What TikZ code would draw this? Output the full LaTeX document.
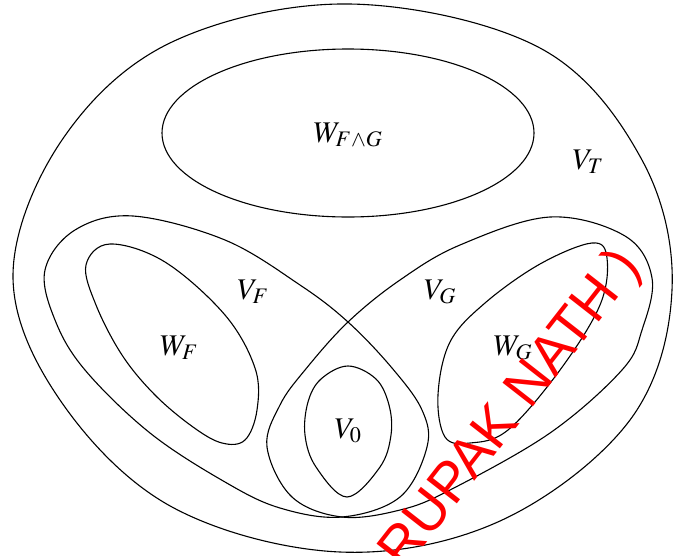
\documentclass[tikz,border=0pt]{standalone}
\usepackage{mathptmx}
\usepackage{fontspec}
\newfontfamily\markfont{Liberation Sans}
\tikzset{
    region/.style={line width=1.1pt, smooth cycle, tension=0.6},
    lbl/.style={font=\fontsize{30}{36}\selectfont},
}
\begin{document}
\begin{tikzpicture}[x=1pt,y=-1pt]
\useasboundingbox (0,0) rectangle (675,555);
\begin{scope}
    \clip (0,0) rectangle (675,555);
    \draw[region] plot coordinates {(350,4) (540,48) (642,160) (672,290) (630,420) (500,521) (340,552) (172,507) (60,400) (13,275) (62,140) (172,42)};
    \draw[line width=1.1pt] (348,133) ellipse [x radius=186, y radius=84];
    \draw[region] plot coordinates {(133,216) (225,240) (300,285) (348,322) (392,368) (422,410) (427,447) (400,497) (342,517) (280,508) (225,482) (150,433) (85,370) (55,320) (45,270) (75,230)};
    \draw[region] plot coordinates {(550,217) (625,236) (652,278) (642,330) (622,370) (550,433) (450,490) (400,510) (342,517) (292,497) (267,447) (280,405) (305,370) (348,322) (400,280) (460,245)};
    \draw[region] plot coordinates {(110,244) (165,262) (225,315) (255,368) (257,410) (245,440) (222,443) (193,427) (155,395) (122,355) (96,305) (86,265)};
    \draw[region] plot coordinates {(592,243) (607,258) (600,305) (560,370) (508,430) (470,443) (445,437) (438,395) (450,342) (485,303) (540,264)};
    \draw[region] plot coordinates {(348,366) (376,379) (389,405) (391,435) (380,467) (347,497) (316,467) (305,435) (308,402) (321,379)};
    \node[lbl] (wfg) at (348,135) {$W_{F\wedge G}$};
    \node[lbl] (vt) at (588,162) {$V_T$};
    \node[lbl] (vf) at (253,292) {$V_F$};
    \node[lbl] (vg) at (440,292) {$V_G$};
    \node[lbl] (wf) at (179,348) {$W_F$};
    \node[lbl] (wg) at (513,348) {$W_G$};
    \node[lbl] (vzero) at (348,431) {$V_0$};
    \node[red, rotate=52, font=\markfont\fontsize{56}{56}\selectfont] (mark) at (512,410) {RUPAK NATH )};
\end{scope}
\end{tikzpicture}
\end{document}
